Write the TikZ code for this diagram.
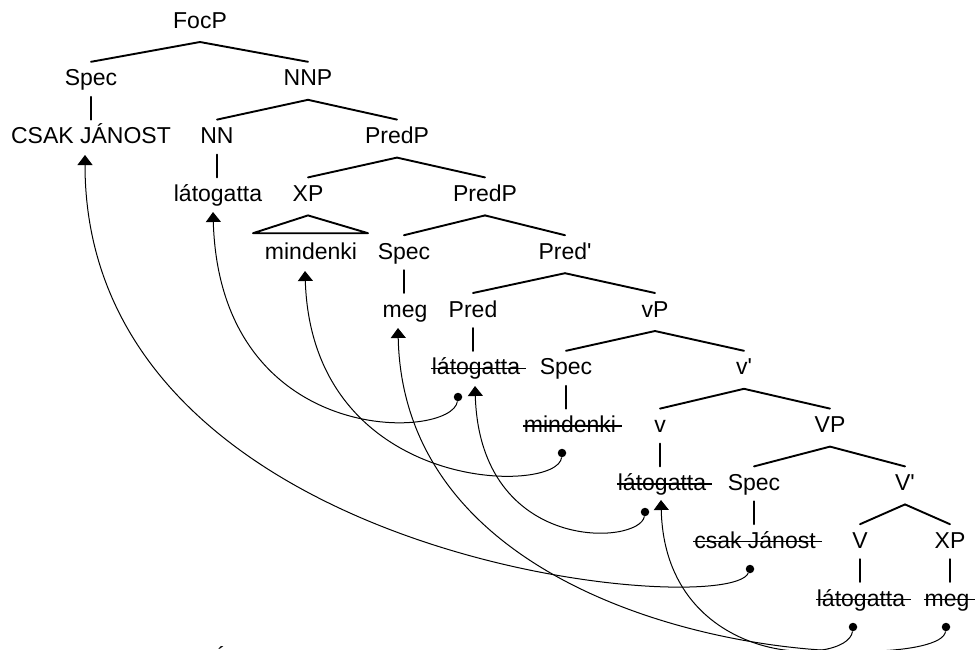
\documentclass[tikz,border=0pt]{standalone}
\usepackage{fontspec}
\setmainfont{Liberation Sans}[Ligatures=TeXOff]
\usetikzlibrary{calc,arrows.meta}

% tree helpers
\newcommand\treebranch[2]{\draw[treeline] ($(#1.base)+(0,14)$) -- ($(#2.base)+(0,-24)$);}
\newcommand\treeunary[2]{\draw[treeline] ($(#1.base)+(0,11)$) -- ($(#1.base |- #2.base)+(0,-24)$);}
\newcommand\strikenode[1]{\draw[strikeline] ($(#1.base west)+(-1,-6.5)$) -- ($(#1.base east)+(6,-6.5)$);}

\begin{document}
\begin{tikzpicture}[x=1pt,y=-1pt,
  lbl/.style={anchor=base,inner sep=0pt,outer sep=0pt,font=\fontsize{23}{27}\selectfont},
  treeline/.style={line width=1.9pt,line cap=round},
  strikeline/.style={line width=1.4pt},
  movement/.style={line width=1pt,-{Triangle[width=15pt,length=10pt]}},
  trace/.style={circle,fill=black,inner sep=0pt,minimum size=8.5pt},
]
\useasboundingbox (0,0) rectangle (978,649);

% labels, one row per level
\node[lbl] (focp)    at (200,28)    {FocP};
\node[lbl] (spec1)   at (91,85.8)   {Spec};
\node[lbl] (nnp)     at (308,85.8)  {NNP};
\node[lbl] (csak)    at (91,143.6)  {CSAK JÁNOST};
\node[lbl] (nn)      at (217,143.6) {NN};
\node[lbl] (predp1)  at (397,143.6) {PredP};
\node[lbl] (lat1)    at (218,201.4) {látogatta};
\node[lbl] (xp1)     at (308,201.4) {XP};
\node[lbl] (predp2)  at (485,201.4) {PredP};
\node[lbl] (mind1)   at (311,259.2) {mindenki};
\node[lbl] (spec2)   at (404,259.2) {Spec};
\node[lbl] (predbar) at (565,259.2) {Pred'};
\node[lbl] (meg1)    at (405,317)   {meg};
\node[lbl] (pred)    at (473,317)   {Pred};
\node[lbl] (vp)      at (655,317)   {vP};
\node[lbl] (lat2)    at (476,374.8) {látogatta};
\node[lbl] (spec3)   at (566,374.8) {Spec};
\node[lbl] (vbar)    at (744,374.8) {v'};
\node[lbl] (mind2)   at (570,432.6) {mindenki};
\node[lbl] (vsmall)  at (660,432.6) {v};
\node[lbl] (bigvp)   at (830,432.6) {VP};
\node[lbl] (lat3)    at (662,490.4) {látogatta};
\node[lbl] (spec4)   at (754,490.4) {Spec};
\node[lbl] (bigvbar) at (905,490.4) {V'};
\node[lbl] (csak2)   at (755,548.2) {csak Jánost};
\node[lbl] (bigv)    at (860,548.2) {V};
\node[lbl] (xp2)     at (950,548.2) {XP};
\node[lbl] (lat4)    at (861,606)   {látogatta};
\node[lbl] (meg2)    at (947,606)   {meg};
% clipped capital at the lower edge
\node[lbl] (capa)    at (220,666)   {Á};

% branching
\treebranch{focp}{spec1}  \treebranch{focp}{nnp}
\treebranch{nnp}{nn}      \treebranch{nnp}{predp1}
\treebranch{predp1}{xp1}  \treebranch{predp1}{predp2}
\treebranch{predp2}{spec2} \treebranch{predp2}{predbar}
\treebranch{predbar}{pred} \treebranch{predbar}{vp}
\treebranch{vp}{spec3}    \treebranch{vp}{vbar}
\treebranch{vbar}{vsmall} \treebranch{vbar}{bigvp}
\treebranch{bigvp}{spec4} \treebranch{bigvp}{bigvbar}
\treebranch{bigvbar}{bigv} \treebranch{bigvbar}{xp2}

% non-branching
\treeunary{spec1}{csak}
\treeunary{nn}{lat1}
\treeunary{spec2}{meg1}
\treeunary{pred}{lat2}
\treeunary{spec3}{mind2}
\treeunary{vsmall}{lat3}
\treeunary{spec4}{csak2}
\treeunary{bigv}{lat4}
\treeunary{xp2}{meg2}

% phrasal triangle
\draw[treeline,line join=round] ($(xp1.base)+(0,14)$) -- ($(mind1.base west)+(-12,-26)$)
  -- ($(mind1.base east)+(11,-26)$) -- cycle;

% deleted copies
\strikenode{lat2}
\strikenode{mind2}
\strikenode{lat3}
\strikenode{csak2}
\strikenode{lat4}
\strikenode{meg2}

% traces
\node[trace] (t1) at (458,397) {};
\node[trace] (t2) at (562,453) {};
\node[trace] (t3) at (645,512) {};
\node[trace] (t4) at (750,569) {};
\node[trace] (t5) at (853,627) {};
\node[trace] (t6) at (946,627) {};

% landing sites
\coordinate (h1) at (85,155);
\coordinate (h2) at (213,212);
\coordinate (h3) at (305,271);
\coordinate (h4) at (398,328);
\coordinate (h5) at (475,386);
\coordinate (h6) at (661,500);

% movement
\draw[movement] (t1) .. controls +(-6,43) and +(7,238) .. (h2);
\draw[movement] (t2) .. controls +(-4,42) and +(7,224) .. (h3);
\draw[movement] (t3) .. controls +(-5,33) and +(5,169) .. (h5);
\draw[movement] (t5) .. controls +(-5,41) and +(4,168) .. (h6);
\draw[movement] (t6) .. controls +(-6,53) and +(7,332) .. (h4);
\draw[movement] (t4) .. controls +(-22,51) and +(0,410) .. (h1);
\end{tikzpicture}
\end{document}
